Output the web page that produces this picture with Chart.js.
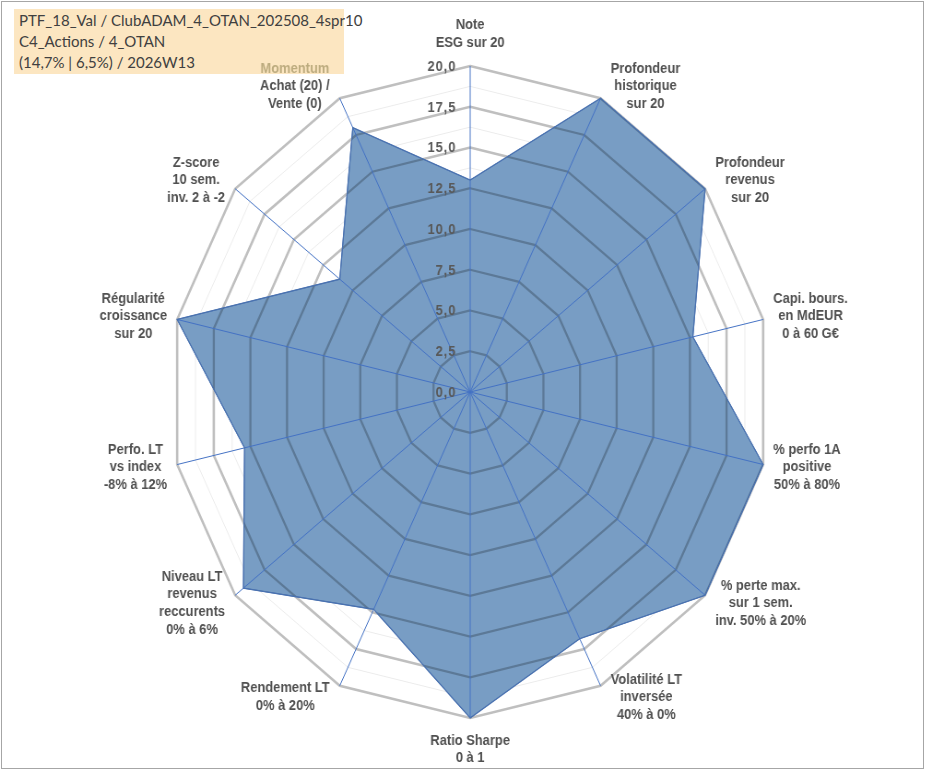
<!DOCTYPE html>
<html>
<head>
<meta charset="utf-8">
<script src="https://cdn.jsdelivr.net/npm/chart.js@4.4.1/dist/chart.umd.min.js"></script>
<style>
  html, body { margin:0; padding:0; background:#ffffff; overflow:hidden; }
  body { width:932px; height:776px; position:relative; }
  #frame { position:absolute; left:1px; top:1px; width:923px; height:768px; border:1px solid #a6a6a6; box-sizing:border-box; }
  #titlebox { position:absolute; left:14px; top:9px; width:330px; height:65px; background:#fce6c1;
    font-family:"Lato","Open Sans",sans-serif; font-size:15px; line-height:21px; color:#404040;
    padding:1px 0 0 5px; box-sizing:border-box; white-space:nowrap; z-index:0; }
  #wrap { position:absolute; left:0; top:0; width:1011px; height:776px; transform:scaleX(0.92186); transform-origin:0 0; z-index:1; }
</style>
</head>
<body>
<div id="frame"></div>
<div id="titlebox"></div>
<div id="wrap"><canvas id="c"></canvas></div>
<script>
// ---- data ----
const titleLines = [
  'PTF_18_Val / ClubADAM_4_OTAN_202508_4spr10',
  'C4_Actions / 4_OTAN',
  '(14,7% | 6,5%) / 2026W13'
];
const categories = [
  ['Note', 'ESG sur 20'],
  ['Profondeur', 'historique', 'sur 20'],
  ['Profondeur', 'revenus', 'sur 20'],
  ['Capi. bours.', 'en MdEUR', '0 à 60 G€'],
  ['% perfo 1A', 'positive', '50% à 80%'],
  ['% perte max.', 'sur 1 sem.', 'inv. 50% à 20%'],
  ['Volatilité LT', 'inversée', '40% à 0%'],
  ['Ratio Sharpe', '0 à 1'],
  ['Rendement LT', '0% à 20%'],
  ['Niveau LT', 'revenus', 'reccurents', '0% à 6%'],
  ['Perfo. LT', 'vs index', '-8% à 12%'],
  ['Régularité', 'croissance', 'sur 20'],
  ['Z-score', '10 sem.', 'inv. 2 à -2'],
  ['Momentum', 'Achat (20) /', 'Vente (0)']
];
const scores = [13.0, 20, 20, 15.2, 20, 20, 16.8, 20, 14.8, 19.3, 15.4, 20, 11.1, 18.0];
const tickValues = [0, 2.5, 5, 7.5, 10, 12.5, 15, 17.5, 20];
const tickLabels = ['0,0', '2,5', '5,0', '7,5', '10,0', '12,5', '15,0', '17,5', '20,0'];
const highlightedLine = 'Momentum';

document.getElementById('titlebox').innerHTML = titleLines.map(t => '<div>' + t + '</div>').join('');

const FILL = 'rgb(120,157,196)';
const BORDER = '#4a72b0';
const RING = '#bfbfbf';
const RING_IN = '#c4c4c4';
const SPOKE = '#4472c4';

const overlayPlugin = {
  id: 'overlay',
  afterDatasetsDraw(chart) {
    const scale = chart.scales.r;
    const ctx = chart.ctx;
    const pts = chart.getDatasetMeta(0).data;
    const n = chart.data.labels.length;
    const tracePoly = () => {
      ctx.beginPath();
      pts.forEach((p, i) => { i ? ctx.lineTo(p.x, p.y) : ctx.moveTo(p.x, p.y); });
      ctx.closePath();
    };
    ctx.save();
    tracePoly();
    ctx.clip();
    // rings seen through the filled area (multiplied)
    ctx.globalCompositeOperation = 'multiply';
    ctx.strokeStyle = RING_IN;
    ctx.lineWidth = 2.3;
    tickValues.forEach(v => {
      if (v <= 0) return;
      const r = scale.getDistanceFromCenterForValue(v);
      ctx.beginPath();
      for (let i = 0; i < n; i++) {
        const p = scale.getPointPosition(i, r);
        i ? ctx.lineTo(p.x, p.y) : ctx.moveTo(p.x, p.y);
      }
      ctx.closePath();
      ctx.stroke();
    });
    // spokes over the fill
    ctx.globalCompositeOperation = 'source-over';
    ctx.strokeStyle = SPOKE;
    ctx.lineWidth = 1;
    for (let i = 0; i < n; i++) {
      const p = scale.getPointPosition(i, scale.drawingArea);
      ctx.beginPath();
      ctx.moveTo(scale.xCenter, scale.yCenter);
      ctx.lineTo(p.x, p.y);
      ctx.stroke();
    }
    ctx.restore();
    // series outline
    ctx.save();
    ctx.strokeStyle = BORDER;
    ctx.lineWidth = 1.2;
    tracePoly();
    ctx.stroke();
    ctx.restore();
  },
  afterDraw(chart) {
    const scale = chart.scales.r;
    const ctx = chart.ctx;
    ctx.save();
    // tick labels
    ctx.font = 'bold 14px "Liberation Sans", Arial, sans-serif';
    try { ctx.letterSpacing = '1px'; } catch (e) {}
    ctx.fillStyle = '#595959';
    ctx.textAlign = 'right';
    ctx.textBaseline = 'middle';
    tickValues.forEach((v, i) => {
      const p = scale.getPointPositionForValue(0, v);
      ctx.fillText(tickLabels[i], p.x - 15, p.y + 1);
    });
    try { ctx.letterSpacing = '0px'; } catch (e) {}
    // category labels
    ctx.font = 'bold 14px "Liberation Sans", Arial, sans-serif';
    const lineH = 17.7;
    const n = chart.data.labels.length;
    chart.data.labels.forEach((lines, i) => {
      const p = scale.getPointPosition(i, scale.drawingArea);
      const a = i * 2 * Math.PI / n;
      const s = Math.sin(a), c = Math.cos(a);
      let w = 0;
      lines.forEach(l => { w = Math.max(w, ctx.measureText(l).width); });
      const h = lines.length * lineH;
      let cx, cy;
      if (Math.abs(s) < 0.01) {
        cx = p.x;
        cy = p.y - c * (h / 2 + 14);
      } else {
        cx = p.x + Math.sign(s) * (w / 2 + 11);
        cy = p.y - c * 13;
      }
      ctx.textAlign = 'center';
      ctx.textBaseline = 'middle';
      lines.forEach((l, k) => {
        ctx.fillStyle = (l === highlightedLine) ? '#bcab7e' : '#505050';
        ctx.fillText(l, cx, cy - h / 2 + lineH * (k + 0.5));
      });
    });
    ctx.restore();
  }
};

new Chart(document.getElementById('c'), {
  type: 'radar',
  data: {
    labels: categories,
    datasets: [{
      data: scores,
      backgroundColor: FILL,
      borderColor: BORDER,
      borderWidth: 1,
      pointRadius: 0,
      fill: true
    }]
  },
  options: {
    responsive: true,
    maintainAspectRatio: false,
    animation: false,
    layout: { padding: { left: 184, right: 175, top: 66, bottom: 58 } },
    plugins: { legend: { display: false }, tooltip: { enabled: false } },
    scales: {
      r: {
        min: 0,
        max: 20,
        ticks: { display: false, stepSize: 1.25 },
        pointLabels: { display: false },
        grid: {
          color: (ctx) => (ctx.tick && Math.abs(ctx.tick.value / 2.5 - Math.round(ctx.tick.value / 2.5)) < 1e-6) ? RING : '#ececec',
          lineWidth: (ctx) => (ctx.tick && Math.abs(ctx.tick.value / 2.5 - Math.round(ctx.tick.value / 2.5)) < 1e-6) ? 2.6 : 1
        },
        angleLines: { color: SPOKE, lineWidth: 1 }
      }
    }
  },
  plugins: [overlayPlugin]
});
</script>
</body>
</html>
